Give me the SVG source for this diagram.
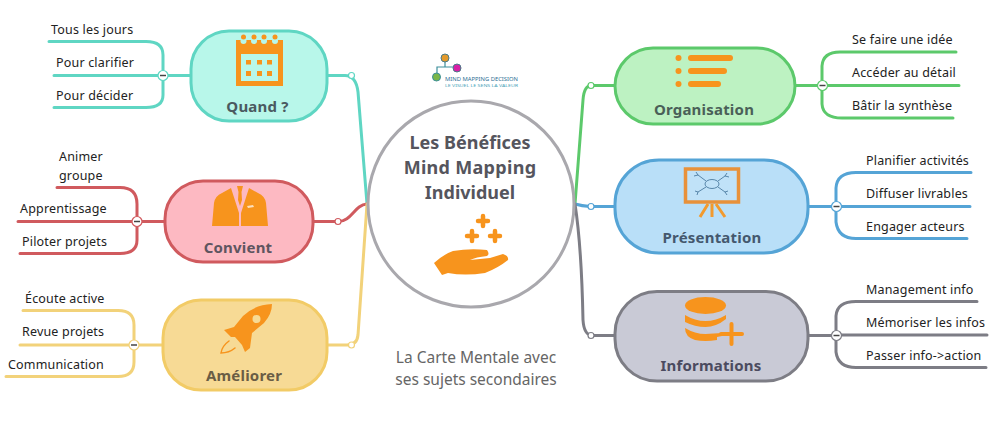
<svg xmlns="http://www.w3.org/2000/svg" width="998" height="421" viewBox="0 0 998 421">
<style>
text{font-family:"Noto Sans","Open Sans","Liberation Sans",sans-serif}
.t{font-size:12.5px;fill:#222;letter-spacing:.18px}
.h{font-size:15px;font-weight:700;text-anchor:middle;letter-spacing:.2px}
.c{font-size:18px;font-weight:700;fill:#55555d;text-anchor:middle}
.n{font-size:15.500px;fill:#666;text-anchor:middle}
.b{stroke-width:3px;fill:none;stroke-linecap:round}
.k{fill:#fff;stroke-width:1.2px}
.m{stroke:#444;stroke-width:1.5px}
.o{fill:#f7941d}
.ol{stroke:#f7941d;fill:none;stroke-linecap:round}
.d{fill:#fff;stroke-width:1.2px}
</style>
<rect width="998" height="421" fill="#fff"/>
<g id="connectors">
<path class="b" stroke="#5fd6c3" d="M327 75.500H345Q356 75.500 358 92L367 204"/>
<path class="b" stroke="#d05a5e" d="M313 221.500H338C352 221.500 354 205 367 204"/>
<path class="b" stroke="#f2d27a" d="M327 345H347Q357 345 358 335L367 204"/>
<path class="b" stroke="#5cc96b" d="M575 204L583 100Q584 85 592 85.500H615"/>
<path class="b" stroke="#55a4d6" d="M575 204Q582 206 590 206.500H615"/>
<path class="b" stroke="#7d7d85" d="M575 204C579 230 582 270 583 320Q584 335 592 335.500H615"/>
<path class="b" stroke="#5fd6c3" d="M190 75.500H163M163 75.500V55Q163 41.500 146 41.500H49M163 75.500H54M163 75.500V95Q163 107.500 146 107.500H54"/>
<path class="b" stroke="#d05a5e" d="M164 221.500H137M137 221.500V204Q137 187.500 120 187.500H57M137 221.500H18M137 221.500V240Q137 253.500 120 253.500H20"/>
<path class="b" stroke="#f2d27a" d="M162 345H134M134 345V325Q134 310.500 118 310.500H23M134 345H20M134 345V362Q134 376.500 118 376.500H6"/>
<path class="b" stroke="#5cc96b" d="M795 85.500H822M822 85.500V66Q823 52 840 52H956M822 85.500H959M822 85.500V104Q823 118 842 118H953"/>
<path class="b" stroke="#55a4d6" d="M809 206.500H836M836 206.500V188Q837 172.500 856 172.500H971M836 206.500H970M836 206.500V222Q838 238.500 856 238.500H967"/>
<path class="b" stroke="#7d7d85" d="M809 335.500H836M836 335.500V316Q837 301.500 856 301.500H977M836 335H987M836 335.500V352Q838 367.500 856 367.500H986"/>
<circle class="d" stroke="#5fd6c3" cx="351.500" cy="75.500" r="3"/>
<circle class="d" stroke="#d05a5e" cx="338" cy="221.500" r="3"/>
<circle class="d" stroke="#f2d27a" cx="351.500" cy="345" r="3"/>
<circle class="d" stroke="#5cc96b" cx="591" cy="85.500" r="3"/>
<circle class="d" stroke="#55a4d6" cx="591" cy="206.500" r="3"/>
<circle class="d" stroke="#7d7d85" cx="591" cy="335.500" r="3"/>
</g>
<g id="centre">
<circle cx="471" cy="204" r="103" fill="#fff" stroke="#a9a8ad" stroke-width="3"/>
<text class="c" x="470" y="149">Les Bénéfices</text>
<text class="c" x="470" y="174" letter-spacing=".3">Mind Mapping</text>
<text class="c" x="470" y="199">Individuel</text>
<path class="ol" stroke-width="4.500" d="M478 221H488M483 216V226M467 236H477M472 231V241M490 236H500M495 231V241"/>
<path class="o" d="M434 263Q444 254 453 251Q470 248 487 250Q490 254 487 256Q476 257 470 260L490 258L503 254Q509 256 508 260Q498 268 485 273Q465 276 448 273L442 275Z"/>
</g>
<g id="logo">
<path d="M445 58V67H437V75M445 67H456" stroke="#3d8f9c" stroke-width="1.200" fill="none"/>
<circle cx="445" cy="58" r="4" fill="#e39a2c" stroke="#4a7b88"/>
<circle cx="457" cy="68" r="4" fill="#d81fa6" stroke="#4a7b88"/>
<circle cx="436.500" cy="77" r="4" fill="#7ab648" stroke="#3d8f9c"/>
<text x="445" y="81" font-size="5.500" fill="#2d6f95" textLength="73" lengthAdjust="spacingAndGlyphs">MIND MAPPING DECISION</text>
<text x="445" y="86.500" font-size="3.500" fill="#4aa3b8" textLength="73" lengthAdjust="spacingAndGlyphs">LE VISUEL LE SENS LA VALEUR</text>
</g>
<g id="note">
<text class="n" x="476" y="363">La Carte Mentale avec</text>
<text class="n" x="476" y="385">ses sujets secondaires</text>
</g>
<g id="quand">
<rect x="191" y="31" width="136" height="90" rx="38" fill="#b8f7ea" stroke="#5fd6c3" stroke-width="3"/>
<rect x="236" y="40" width="47" height="46" class="o"/>
<rect x="241" y="54" width="37" height="27" fill="#b8f7ea"/>
<g class="o"><rect x="246" y="60" width="5" height="4.500"/><rect x="257" y="60" width="5" height="4.500"/><rect x="267" y="60" width="5" height="4.500"/><rect x="246" y="71" width="5" height="5"/><rect x="257" y="71" width="5" height="5"/><rect x="267" y="71" width="5" height="5"/></g>
<g fill="#b8f7ea"><circle cx="243.500" cy="41" r="3"/><circle cx="254" cy="41" r="3"/><circle cx="264" cy="41" r="3"/><circle cx="275" cy="41" r="3"/></g>
<g class="o"><circle cx="243.500" cy="37" r="2.500"/><circle cx="254" cy="37" r="2.500"/><circle cx="264" cy="37" r="2.500"/><circle cx="275" cy="37" r="2.500"/></g>
<text class="h" x="257.500" y="112" fill="#4a5a60">Quand ?</text>
</g>
<g id="quand-topics">
<text class="t" x="51" y="34">Tous les jours</text>
<text class="t" x="56" y="67">Pour clarifier</text>
<text class="t" x="56" y="100">Pour décider</text>
<circle class="k" stroke="#5fd6c3" cx="163" cy="75.500" r="5"/><path class="m" d="M160 75.500H166"/>
</g>
<g id="convient">
<rect x="165" y="181" width="148" height="81" rx="38" fill="#fdb9c2" stroke="#d05a5e" stroke-width="3"/>
<path class="o" d="M212 226L214 203Q215 196 222 193L231 188L239 213V226ZM268 226L266 203Q265 196 258 193L249 188L241 213V226Z"/>
<path class="o" d="M237 186H243L241.500 192L242 200L240 206L238 200L238.500 192Z"/>
<path fill="#fff" opacity=".7" d="M247 206L253 205L254 207L248 208Z"/>
<g fill="#fdb9c2" opacity=".7"><circle cx="240" cy="216" r=".8"/><circle cx="240" cy="220" r=".8"/><circle cx="240" cy="224" r=".8"/></g>
<text class="h" x="238" y="253" fill="#5f5560">Convient</text>
</g>
<g id="convient-topics">
<text class="t" x="59" y="161">Animer</text>
<text class="t" x="59" y="180">groupe</text>
<text class="t" x="20" y="213">Apprentissage</text>
<text class="t" x="22" y="246">Piloter projets</text>
<circle class="k" stroke="#d05a5e" cx="137" cy="221.500" r="5"/><path class="m" d="M134 221.500H140"/>
</g>
<g id="ameliorer">
<rect x="163" y="300" width="164" height="90" rx="38" fill="#f7da95" stroke="#f2cb66" stroke-width="3"/>
<path class="o" d="M272 304Q254 305 243 316L234 327L224 330L231 337L235 337L242 345L245 352L250 348L252 333L264 323Q272 314 272 304Z"/>
<circle cx="256.500" cy="319" r="4" fill="#f7da95"/>
<path class="ol" stroke-width="1.500" d="M229 341Q222 346 221 353Q229 353 235 348"/>
<text class="h" x="244" y="381" fill="#6a5d45">Améliorer</text>
</g>
<g id="ameliorer-topics">
<text class="t" x="25" y="303">Écoute active</text>
<text class="t" x="22" y="336">Revue projets</text>
<text class="t" x="8" y="369">Communication</text>
<circle class="k" stroke="#f2d27a" cx="134" cy="345" r="5"/><path class="m" d="M131 345H137"/>
</g>
<g id="organisation">
<rect x="615" y="48" width="180" height="76" rx="38" fill="#bdf2c2" stroke="#5cc96b" stroke-width="3"/>
<g class="o"><circle cx="678.500" cy="58" r="3"/><circle cx="678.500" cy="71" r="3"/><circle cx="678.500" cy="84" r="3"/></g>
<path class="ol" stroke-width="6" d="M691 58H730M691 71H724M691 84H718"/>
<text class="h" x="704" y="115" fill="#4a6058">Organisation</text>
</g>
<g id="organisation-topics">
<text class="t" x="852" y="44">Se faire une idée</text>
<text class="t" x="852" y="77">Accéder au détail</text>
<text class="t" x="852" y="110">Bâtir la synthèse</text>
<circle class="k" stroke="#5cc96b" cx="822.500" cy="85.500" r="5"/><path class="m" d="M819.500 85.500H825.500"/>
</g>
<g id="presentation">
<rect x="615" y="160" width="193" height="93" rx="44" fill="#b9dff8" stroke="#55a4d6" stroke-width="3"/>
<rect x="685.500" y="169" width="53" height="33" fill="#fff" fill-opacity=".1" stroke="#e8913a" stroke-width="3.500"/>
<g stroke="#3e6f96" stroke-width=".8" fill="none"><ellipse cx="712" cy="184" rx="7" ry="4.500"/><path d="M706 181L698 175M698 175L696 172M698 175L694 176M718 181L725 176M725 176L727 173M725 176L729 177M706 187L698 192M698 192L695 191M698 192L697 195M718 187L725 192M725 192L728 191M725 192L727 195"/></g>
<path stroke="#f29a2e" stroke-width="3" fill="none" d="M712 204V217M708 204L700 217M716 204L725 217"/>
<text class="h" x="712" y="243" fill="#44586e">Présentation</text>
</g>
<g id="presentation-topics">
<text class="t" x="866" y="165">Planifier activités</text>
<text class="t" x="866" y="198">Diffuser livrables</text>
<text class="t" x="866" y="231">Engager acteurs</text>
<circle class="k" stroke="#55a4d6" cx="836.500" cy="206.500" r="5"/><path class="m" d="M833.500 206.500H839.500"/>
</g>
<g id="informations">
<rect x="615" y="291.500" width="193" height="89.500" rx="42" fill="#c9cad6" stroke="#7d7d85" stroke-width="3"/>
<ellipse class="o" cx="705.500" cy="305.500" rx="20.500" ry="8.500"/>
<path class="o" d="M685 315Q695 321 705.500 321Q716 321 726 315V319Q716 327 705.500 327Q695 327 685 322Z"/>
<path class="o" d="M685 328Q695 334 705.500 334L722 333V336L717 337V340Q705 342 695 340Q685 337 685 328Z"/>
<path class="ol" stroke-width="4" stroke-linecap="butt" d="M721 334H742M731.500 324V344"/>
<text class="h" x="711" y="371" fill="#4b4b5f">Informations</text>
</g>
<g id="informations-topics">
<text class="t" x="866" y="294">Management info</text>
<text class="t" x="866" y="327">Mémoriser les infos</text>
<text class="t" x="866" y="360">Passer info-&gt;action</text>
<circle class="k" stroke="#7d7d85" cx="836.500" cy="335.500" r="5"/><path class="m" d="M833.500 335.500H839.500"/>
</g>
</svg>
